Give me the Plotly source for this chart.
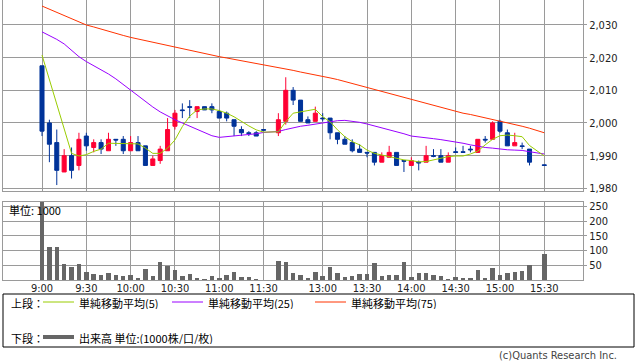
import plotly.graph_objects as go

W, H = 638, 362

# 5-minute slots: 0 = 9:00 ... 30 = 11:30, 31 = lunch gap, 32 = 12:30 ... 68 = 15:30
slots = list(range(69))

opens = [2017.5, 2000, 1994, 1985, 1990, 1987, 1996, 1992.5, 1994, 1991.5,
         1995, 1995, 1991.5, 1994, 1993, 1987, 1988.5, 1991.5, 1999, 2004,
         2005, 2003.5, 2005, 2005, 2003.5, 2003, 2001, 1998, 1997, 1997,
         1998, None, 1997, 2000.5, 2010, 2007, 2001, 2000.5, 2001.5, 2001.5,
         1997, 1995, 1994, 1992, 1991, 1991, 1988, 1989.5, 1991, 1988.5,
         1987, 1988, 1988, 1990, 1990, 1988, 1991.2, 1991.2, 1992, 1991,
         1995, 1995, 2000.5, 1997, 1993, 1993, 1992, None, 1987.2]
highs = [2017.5, 2001, 1998, 1992, 1992.5, 1997, 1997, 1995, 1995, 1997,
         1995, 1996, 1996, 1996, 1993, 1990, 1993, 2001.5, 2004, 2006,
         2007, 2005, 2005, 2006, 2004, 2003.5, 2001, 1999, 1997.5, 1997.5,
         1998, None, 2003, 2014, 2011, 2007, 2002, 2005, 2003, 2001.5,
         1997, 1996, 1995, 1993.5, 1991, 1991, 1991, 1993, 1991, 1988.5,
         1989.5, 1988.5, 1993, 1992, 1992, 1991, 1992.5, 1993, 1993, 1995,
         1996, 2000.5, 2001, 1998, 1997, 1994, 1992, None, 1987.2]
lows = [1996, 1988, 1981, 1985, 1983, 1985.5, 1991.5, 1991, 1990.5, 1991.5,
        1993, 1990.5, 1991.5, 1991.5, 1987, 1987, 1987.5, 1991.5, 1998, 2001.5,
        2001.5, 2001.5, 2004, 2003, 2001.5, 2000.5, 1996, 1996, 1996, 1996,
        1997.5, None, 1996, 1999.5, 2005.5, 2000.5, 2000, 2000.5, 2000.5, 1995,
        1993.5, 1993.5, 1991, 1991, 1989.5, 1987, 1988, 1989.5, 1987, 1985,
        1987, 1985.5, 1988, 1989.5, 1988, 1988, 1991, 1991, 1991, 1991,
        1994, 1995, 1997, 1993, 1993, 1992, 1987, None, 1987]
closes = [1997.5, 1993.5, 1985.5, 1990, 1985.5, 1995, 1993, 1994, 1992, 1995,
          1994.8, 1991.5, 1994, 1991.5, 1987, 1989, 1992, 1998, 2003, 2003.8,
          2004.8, 2005, 2004, 2004, 2001.5, 2001.5, 1999, 1997, 1996.8, 1996,
          1997.8, None, 2001, 2010, 2007, 2000.5, 2000, 2003, 2001.3, 1997,
          1995, 1993.5, 1991.5, 1991, 1990.8, 1988, 1990, 1991, 1987, 1988.3,
          1988.5, 1987.8, 1990, 1989.8, 1988, 1990, 1991, 1991, 1991.8, 1995,
          1994.8, 2000, 1997.5, 1993, 1994, 1992.8, 1988, None, 1987]
volume = [270, 114, 114, 55, 46, 55, 27, 21, 17, 24,
          17, 15, 17, 8, 38, 15, 62, 48, 34, 14,
          21, 7, 5, 15, 8, 17, 27, 11, 11, 5,
          0, None, 65, 63, 25, 17, 8, 29, 14, 46,
          25, 11, 14, 21, 21, 58, 15, 17, 17, 62,
          11, 24, 24, 17, 14, 5, 11, 8, 8, 34,
          8, 42, 17, 24, 27, 31, 51, None, 89]
ma5 = [2020.8, 2013.3, 2005.8, 1998.3, 1990.7, 1989.9, 1990.3, 1991.3, 1992.0, 1993.8,
       1993.8, 1993.7, 1993.8, 1993.6, 1992.3, 1990.7, 1990.7, 1992.3, 1994.8, 1998.9,
       2002.1, 2004.0, 2004.3, 2004.3, 2003.8, 2003.0, 2001.9, 2000.4, 1999.1, 1997.9,
       1997.2, None, 1997.3, 2000.4, 2003.0, 2003.5, 2003.8, 2004.2, 2001.9, 2000.4,
       1997.9, 1995.8, 1994.3, 1993.3, 1991.7, 1990.7, 1990.2, 1989.9, 1989.2, 1988.7,
       1988.5, 1988.1, 1988.2, 1988.7, 1989.2, 1989.7, 1989.9, 1989.9, 1990.5, 1991.4,
       1993.3, 1995.0, 1996.1, 1996.3, 1996.1, 1995.8, 1993.1, None, 1989.9]
ma25 = [2027.9, 2026.8, 2025.6, 2024.2, 2022.3, 2020.3, 2018.8, 2017.6, 2016.3, 2015.0,
        2013.5, 2011.8, 2010.1, 2008.3, 2006.5, 2004.9, 2003.4, 2002.1, 2001.0, 2000.0,
        1999.0, 1997.9, 1997.0, 1996.1, 1995.6, 1995.8, 1996.0, 1996.2, 1996.4, 1996.7,
        1997.1, None, 1997.4, 1998.0, 1998.6, 1999.0, 1999.3, 1999.7, 2000.0, 2000.3,
        2000.7, 2000.8, 2000.6, 2000.2, 1999.7, 1999.1, 1998.6, 1998.1, 1997.5, 1996.7,
        1996.0, 1995.8, 1995.5, 1995.2, 1994.9, 1994.6, 1994.3, 1993.8, 1993.3, 1992.8,
        1992.5, 1992.3, 1992.0, 1991.8, 1991.7, 1991.6, 1991.2, None, 1990.5]
ma75 = [2035.8, 2034.8, 2033.8, 2032.9, 2031.9, 2031.0, 2030.0, 2029.4, 2028.7, 2028.0,
        2027.4, 2026.8, 2026.2, 2025.7, 2025.2, 2024.6, 2024.1, 2023.6, 2023.1, 2022.6,
        2022.2, 2021.7, 2021.2, 2020.8, 2020.3, 2019.9, 2019.5, 2019.0, 2018.6, 2018.1,
        2017.7, None, 2017.0, 2016.6, 2016.1, 2015.6, 2015.2, 2014.8, 2014.4, 2013.8,
        2013.3, 2012.7, 2012.1, 2011.5, 2010.9, 2010.2, 2009.6, 2009.0, 2008.4, 2007.8,
        2007.2, 2006.6, 2006.0, 2005.4, 2004.8, 2004.1, 2003.5, 2003.0, 2002.6, 2002.1,
        2001.6, 2001.2, 2000.7, 2000.2, 1999.6, 1999.0, 1998.4, None, 1997.0]

tick_slots = [0, 6, 12, 18, 24, 30, 38, 44, 50, 56, 62, 68]
tick_labels = ["9:00", "9:30", "10:00", "10:30", "11:00", "11:30",
               "13:00", "13:30", "14:00", "14:30", "15:00", "15:30"]
price_ticks = [1980, 1990, 2000, 2010, 2020, 2030]
vol_ticks = [50, 100, 150, 200, 250]

legend_items = [("単純移動平均(5)", "#99cc00"),
                ("単純移動平均(25)", "#9900ff"),
                ("単純移動平均(75)", "#ff3300")]

UP = "#ff0033"
DOWN = "#003399"
GRID = "#9a9a9a"
NUMFONT = "DejaVu Sans Condensed, DejaVu Sans"
JPFONT = "Noto Sans CJK JP"

def px(x):
    return x / W

def py(y):
    return 1 - y / H

fig = go.Figure()

fig.add_trace(go.Candlestick(
    x=slots, open=opens, high=highs, low=lows, close=closes,
    increasing=dict(line=dict(color=UP, width=1), fillcolor=UP),
    decreasing=dict(line=dict(color=DOWN, width=1), fillcolor=DOWN),
    whiskerwidth=0, showlegend=False, xaxis="x", yaxis="y"))

for vals, col in zip([ma75, ma25, ma5], ["#ff3300", "#9900ff", "#99cc00"]):
    fig.add_trace(go.Scatter(x=slots, y=vals, mode="lines", connectgaps=True,
                             line=dict(color=col, width=1), showlegend=False,
                             xaxis="x", yaxis="y"))

fig.add_trace(go.Bar(x=slots, y=volume, marker=dict(color="#666666", line=dict(width=0)),
                     width=0.6, showlegend=False, xaxis="x2", yaxis="y2"))

xrange = [-5.28, 73.24]
xdom = [px(3), px(583)]

fig.update_layout(
    width=W, height=H,
    margin=dict(l=0, r=0, t=0, b=0, autoexpand=False),
    paper_bgcolor="white", plot_bgcolor="white",
    boxgap=0.22,
    bargap=0,
    xaxis=dict(domain=xdom, range=xrange, anchor="y", tickvals=tick_slots,
               showticklabels=False, showgrid=True, gridcolor=GRID, gridwidth=1,
               showline=True, linecolor=GRID, linewidth=1, mirror=False,
               zeroline=False, ticks="", rangeslider=dict(visible=False),
               fixedrange=True, automargin=False),
    yaxis=dict(domain=[py(190.7), 1.0], range=[1979.27, 2037.65], side="right",
               tickvals=price_ticks, tickformat=",d", showgrid=True, gridcolor=GRID,
               gridwidth=1, showline=True, linecolor=GRID, linewidth=1, mirror=True,
               ticks="outside", ticklen=3, tickcolor=GRID, zeroline=False,
               tickfont=dict(family=NUMFONT, size=11, color="#222222"),
               anchor="x", automargin=False),
    xaxis2=dict(domain=xdom, range=xrange, anchor="y2", tickvals=tick_slots,
                ticktext=tick_labels, showgrid=True, gridcolor=GRID, gridwidth=1,
                showline=True, linecolor=GRID, linewidth=1, mirror=True,
                zeroline=False, ticks="", automargin=False, ticklabelstandoff=-2,
                tickfont=dict(family=NUMFONT, size=11, color="#222222")),
    yaxis2=dict(domain=[py(280), py(201.7)], range=[0, 266], side="right",
                tickvals=vol_ticks, showgrid=True, gridcolor=GRID, gridwidth=1,
                showline=True, linecolor=GRID, linewidth=1, mirror=True,
                ticks="outside", ticklen=3, tickcolor=GRID, zeroline=False,
                tickfont=dict(family=NUMFONT, size=11, color="#222222"),
                anchor="x2", automargin=False),
)

shapes = []
annotations = []

# legend box
shapes.append(dict(type="rect", xref="paper", yref="paper",
                   x0=px(3), x1=px(634), y0=py(347), y1=py(294),
                   line=dict(color="#000000", width=1)))

TXT = dict(xref="paper", yref="paper", xanchor="left", yanchor="middle",
           showarrow=False, height=13, borderpad=0,
           font=dict(family=JPFONT, size=11, color="#000"))

y1, y2 = 302, 337
annotations.append(dict(text="上段：", x=px(10), y=py(y1), **TXT))
line_x = [(43, 74), (172, 203), (315, 346)]
text_x = [78, 207, 350]
for (label, col), (a, b), tx in zip(legend_items, line_x, text_x):
    shapes.append(dict(type="line", xref="paper", yref="paper",
                       x0=px(a), x1=px(b), y0=py(y1), y1=py(y1),
                       line=dict(color=col, width=1)))
    annotations.append(dict(text=label, x=px(tx), y=py(y1), **TXT))

annotations.append(dict(text="下段：", x=px(10), y=py(y2), **TXT))
shapes.append(dict(type="line", xref="paper", yref="paper",
                   x0=px(43), x1=px(74), y0=py(y2), y1=py(y2),
                   line=dict(color="#666666", width=4)))
annotations.append(dict(text="出来高 単位:(1000株/口/枚)", x=px(78), y=py(y2), **TXT))

annotations.append(dict(text="単位: 1000", x=px(8), y=py(209.5), **TXT))

annotations.append(dict(text="(c)Quants Research Inc.", x=px(619), y=py(355),
                        xref="paper", yref="paper", xanchor="right", yanchor="middle",
                        showarrow=False, font=dict(family=NUMFONT, size=11, color="#444")))

fig.update_layout(shapes=shapes, annotations=annotations)

fig.write_html("out.html", config={"displayModeBar": False},
               post_script="document.body.style.margin='0px';document.body.style.overflow='hidden';")
